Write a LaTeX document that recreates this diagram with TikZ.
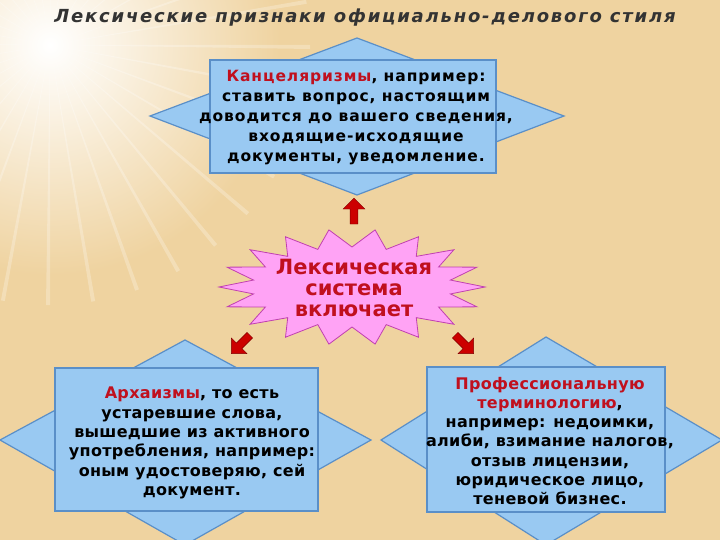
\documentclass[tikz,border=0pt]{standalone}
\usepackage{fontspec}
\setmainfont{DejaVu Sans}
\usetikzlibrary{shapes.arrows}
\definecolor{bg}{HTML}{EFD3A0}
\definecolor{boxblue}{HTML}{99C9F2}
\definecolor{boxedge}{HTML}{5A8FC8}
\definecolor{kred}{HTML}{C0101E}
\definecolor{starpink}{HTML}{FFA3F5}
\definecolor{staredge}{HTML}{C040B0}
\tikzset{
  shp/.style={fill=boxblue,draw=boxedge,line width=1.2pt},
  boxtxt/.style={font=\bfseries\fontsize{15.5}{20}\selectfont\addfontfeature{LetterSpace=6},align=center,text=black},
  boxtxtb/.style={font=\bfseries\fontsize{16}{19.3}\selectfont\addfontfeature{LetterSpace=2},align=center,text=black},
  redarrow/.style={single arrow,fill=red!80!black,draw=red!50!black,minimum height=26pt,minimum width=22pt,single arrow head extend=4pt,inner sep=2pt}
}
\begin{document}
\begin{tikzpicture}[x=1pt,y=-1pt]
\useasboundingbox (0,0) rectangle (720,540);
\fill[bg] (0,0) rectangle (720,540);
\shade[inner color=white,outer color=bg] (50,45) circle (230);
\foreach \a in {0,10,...,350}{\fill[white,opacity=0.25] (50,45) -- ++(\a:260) -- ++(\a+90:4) -- cycle;}
% title
\node[font=\bfseries\itshape\fontsize{18}{20}\selectfont\addfontfeature{LetterSpace=10},text=black!80] (title) at (365,18) {Лексические признаки официально-делового стиля};
% top shape
\draw[shp] (150,116) -- (357,38) -- (564,116) -- (357,195) -- cycle;
\draw[shp] (210,60) rectangle (496,173);
\node[boxtxt] (kanc) at (356,118) {\textcolor{kred}{Канцеляризмы}, например:\\ставить вопрос, настоящим\\доводится до вашего сведения,\\входящие-исходящие\\документы, уведомление.};
% bottom-left shape
\draw[shp] (0,440) -- (185,340) -- (371,440) -- (185,545) -- cycle;
\draw[shp] (55,368) rectangle (318,511);
\node[boxtxtb] (arch) at (192,443) {\textcolor{kred}{Архаизмы}, то есть\\устаревшие слова,\\вышедшие из активного\\употребления, например:\\оным удостоверяю, сей\\документ.};
% bottom-right shape
\draw[shp] (381,440) -- (546,337) -- (722,440) -- (546,545) -- cycle;
\draw[shp] (427,367) rectangle (665,512);
\node[boxtxtb] (prof) at (550,441) {\textcolor{kred}{Профессиональную}\\\textcolor{kred}{терминологию},\\например: недоимки,\\алиби, взимание налогов,\\отзыв лицензии,\\юридическое лицо,\\теневой бизнес.};
% star
\filldraw[fill=starpink,draw=staredge,line width=0.8pt]
  plot[samples at={0,...,35}] ({352+(mod(\x,2)==0 ? 133 : 100)*cos(\x*10)},{287+(mod(\x,2)==0 ? 58 : 40)*sin(\x*10)}) -- cycle;
\node[font=\bfseries\fontsize{21}{21}\selectfont,text=kred,align=center] (lex) at (354,288) {Лексическая\\система\\включает};
% arrows
\node[redarrow,rotate=90] (a1) at (354,213) {};
\node[redarrow,rotate=-135] (a2) at (242,343) {};
\node[redarrow,rotate=-45] (a3) at (463,343) {};
\end{tikzpicture}
\end{document}
